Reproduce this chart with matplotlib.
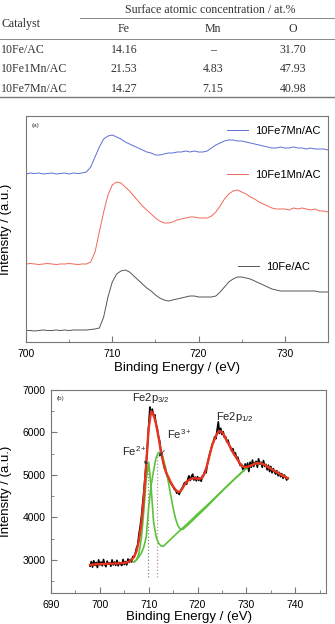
import numpy as np
import matplotlib
matplotlib.use("Agg")
import matplotlib.pyplot as plt
from matplotlib.lines import Line2D

plt.rcParams['font.family'] = ['Liberation Sans', 'DejaVu Sans']
plt.rcParams['mathtext.fontset'] = 'custom'
plt.rcParams['mathtext.rm'] = 'Liberation Sans'
plt.rcParams['mathtext.it'] = 'Liberation Sans:italic'
plt.rcParams['mathtext.bf'] = 'Liberation Sans:bold'

# ---- table data
catalysts = ["10Fe/AC", "10Fe1Mn/AC", "10Fe7Mn/AC"]
elements = ["Fe", "Mn", "O"]
conc_fe = ["14.16", "21.53", "14.27"]
conc_mn = ["\u2013", "4.83", "7.15"]
conc_o = ["31.70", "47.93", "40.98"]

# ---- panel (a): Fe 2p spectra, arbitrary offset units, 0.5 eV grid 700..735
energy_a = np.arange(700, 735.01, 0.5)
fe7mn = [168, 169, 168.5, 169, 168, 168.5, 169, 168, 168.5, 169, 168, 169, 168.5, 169,
         170, 175, 185, 195, 203, 206, 207, 205, 203, 200, 198, 196, 194, 192, 190, 189,
         187, 187, 188, 189, 189, 190, 190, 191, 190, 191, 190, 190, 191, 194, 197, 199,
         201, 202, 202, 201, 201, 200, 199, 198, 197, 196, 195, 194, 194, 195, 194, 194,
         195, 194, 194, 193, 194, 193, 193, 193, 192]
fe1mn = [78, 78.5, 78, 77.5, 78, 78.5, 78, 77.5, 78, 78, 78.5, 78, 77.5, 78,
         78, 80, 90, 110, 130, 147, 157, 160, 159, 155, 151, 146, 141, 136, 132, 128,
         124, 121, 119, 119, 120, 122, 123, 124, 125, 125, 124, 124, 124, 126, 130, 136,
         143, 148, 151, 152, 150, 148, 145, 143, 140, 138, 136, 134, 133, 133, 133, 132,
         134, 133, 134, 133, 132, 133, 131, 131, 130]
fe_only = [11.5, 11.5, 11, 11.5, 12, 11.5, 11.5, 12, 11.5, 12, 11.5, 12, 12, 12,
           12, 12.5, 13, 14, 25, 45, 60, 68, 71, 72, 70, 66, 62, 58, 54, 51,
           47, 44, 42, 41, 42, 43, 44, 45, 46, 46, 45, 45, 45, 45, 46, 50,
           55, 60, 63, 65, 65, 64, 63, 61, 59, 57, 55, 53, 52, 51, 51, 51,
           51, 51, 51, 51, 51, 51, 50, 50, 50]

# ---- panel (b): Fe 2p of one sample with fit
energy_raw = np.arange(698, 738.51, 0.25)
raw_counts = [2850, 2960, 2830, 2980, 2870, 2940, 2820, 3000,
              2880, 2950, 2860, 3010, 2890, 2840, 2970, 2900,
              2930, 2850, 3000, 2880, 2950, 2870, 2990, 2860,
              2940, 2900, 2870, 3010, 2890, 2960, 2880, 3020,
              2940, 3010, 2950, 3080, 3060, 3150, 3280, 3350,
              3600, 3780, 4000, 4300, 4600, 4950, 5300, 5700,
              6150, 6600, 6450, 6550, 6380, 6420, 6200, 6100,
              5900, 5800, 5550, 5480, 5300, 5150, 5100, 4980,
              4950, 4850, 4820, 4760, 4730, 4660, 4650, 4570,
              4600, 4540, 4620, 4680, 4720, 4800, 4830, 4780,
              4900, 4980, 4870, 4960, 5020, 4880, 4950, 4860,
              4960, 4870, 4930, 4850, 4980, 5000, 5100, 5050,
              5250, 5380, 5500, 5600, 5720, 5780, 5900, 5850,
              6050, 6250, 5980, 6100, 5950, 6020, 5880, 5900,
              5780, 5820, 5700, 5650, 5560, 5620, 5480, 5520,
              5380, 5420, 5300, 5220, 5250, 5140, 5100, 5260,
              5150, 5280, 5080, 5300, 5180, 5350, 5200, 5280,
              5320, 5180, 5380, 5250, 5300, 5180, 5340, 5200,
              5250, 5120, 5230, 5080, 5200, 5050, 5150, 5070,
              5020, 5100, 4980, 5060, 4960, 5030, 4920, 5000,
              4950, 4880, 4930]

energy_fit = np.arange(698, 738.51, 0.5)
fit_envelope = [2880, 2890, 2895, 2900, 2900, 2905, 2905, 2910,
                2910, 2910, 2915, 2915, 2920, 2925, 2930, 2940,
                2960, 3000, 3070, 3200, 3450, 3850, 4450, 5250,
                6100, 6500, 6420, 6200, 5900, 5550, 5280, 5080,
                4950, 4830, 4730, 4650, 4600, 4610, 4700, 4800,
                4860, 4900, 4920, 4920, 4910, 4910, 4940, 5050,
                5250, 5480, 5700, 5850, 5970, 6030, 6010, 5920,
                5800, 5700, 5580, 5480, 5400, 5300, 5220, 5190,
                5190, 5200, 5220, 5250, 5270, 5280, 5270, 5250,
                5220, 5180, 5150, 5110, 5080, 5050, 5010, 4980,
                4950, 4920]

energy_fe2 = [707, 707.5, 708, 708.5, 709, 709.5, 710, 710.5, 711, 711.5, 712, 712.5,
              713, 714, 716, 718, 720, 722, 724, 726, 728, 729.5,
              730, 731, 732, 733, 734, 735, 736, 737, 738, 738.5]
comp_fe2 = [2950, 3000, 3150, 3500, 4150, 4900, 5300, 4700, 3900, 3550, 3400, 3330,
            3320, 3430, 3650, 3860, 4080, 4290, 4510, 4730, 4950, 5110,
            5170, 5230, 5270, 5270, 5220, 5150, 5080, 5010, 4950, 4920]
energy_fe3 = [707, 707.5, 708, 708.5, 709, 709.5, 710, 710.5, 711, 711.5, 712, 712.5,
              713, 713.5, 714, 714.5, 715, 715.5, 716, 716.5, 717, 718, 720, 722,
              724, 726, 728, 729.5,
              730, 731, 732, 733, 734, 735, 736, 737, 738, 738.5]
comp_fe3 = [2950, 3000, 3070, 3160, 3300, 3540, 4250, 4750, 5100, 5400, 5530, 5520,
            5380, 5150, 4850, 4530, 4220, 3970, 3800, 3720, 3720, 3820, 4040, 4260,
            4500, 4730, 4950, 5110,
            5170, 5230, 5270, 5270, 5220, 5150, 5080, 5010, 4950, 4920]
fe2_pos = 709.9
fe3_pos = 711.8

fig = plt.figure(figsize=(3.35, 6.24), dpi=100)

# ---- table drawn as figure text
W, H = 335.0, 624.0
serif = ['Liberation Serif', 'DejaVu Serif']
tcol = '#333333'
fs_t = 8.6
fig.text(1 / W, 1 - 24 / H, "Catalyst", family=serif, fontsize=fs_t, color=tcol, va='center', ha='left')
fig.text(210 / W, 1 - 10 / H, "Surface atomic concentration / at.%", family=serif, fontsize=fs_t,
         color=tcol, va='center', ha='center')
for el, cx in zip(elements, [124, 213, 293]):
    fig.text(cx / W, 1 - 29 / H, el, family=serif, fontsize=fs_t, color=tcol, va='center', ha='center')
for i, name in enumerate(catalysts):
    ry = 1 - (50 + 19.5 * i) / H
    fig.text(1 / W, ry, name, family=serif, fontsize=fs_t, color=tcol, va='center', ha='left')
    fig.text(124 / W, ry, conc_fe[i], family=serif, fontsize=fs_t, color=tcol, va='center', ha='center')
    fig.text(213 / W, ry, conc_mn[i], family=serif, fontsize=fs_t, color=tcol, va='center', ha='center')
    fig.text(293 / W, ry, conc_o[i], family=serif, fontsize=fs_t, color=tcol, va='center', ha='center')
fig.add_artist(Line2D([80 / W, 1], [1 - 18 / H, 1 - 18 / H], color='#888888', lw=0.7))
fig.add_artist(Line2D([0, 1], [1 - 39 / H, 1 - 39 / H], color='#888888', lw=0.7))
fig.add_artist(Line2D([0, 1], [1 - 97 / H, 1 - 97 / H], color='#777777', lw=1.0))

spine_col = '#777777'

# ---- panel (a)
ax = fig.add_axes([26 / W, 1 - 342 / H, 302 / W, 226 / H])
l_blue, = ax.plot(energy_a, fe7mn, color='#5b6fd2', lw=0.7)
l_red, = ax.plot(energy_a, fe1mn, color='#f0675a', lw=0.7)
l_blk, = ax.plot(energy_a, fe_only, color='#555555', lw=0.7)
ax.set_xlim(700, 735)
ax.set_ylim(0, 226)
ax.set_yticks([])
ax.set_xticks([700, 710, 720, 730])
ax.set_xticks([705, 715, 725, 735], minor=True)
ax.tick_params(axis='x', which='both', direction='in', labelsize=7.5, pad=5, color=spine_col)
ax.tick_params(axis='x', which='major', length=4)
ax.tick_params(axis='x', which='minor', length=2.5)
for sp in ax.spines.values():
    sp.set_color(spine_col)
ax.set_xlabel("Binding Energy / (eV)", fontsize=9.5)
ax.xaxis.set_label_coords(0.5, -0.09)
ax.set_ylabel("Intensity / (a.u.)", fontsize=9.5)
ax.yaxis.set_label_coords(-0.047, 0.5)
ax.text(0.02, 0.97, "(a)", transform=ax.transAxes, fontsize=4.5, va='top', color='#333333')

legs = []
for handle, label, pos in [(l_blue, "10Fe7Mn/AC", (0.666, 0.934)),
                           (l_red, "10Fe1Mn/AC", (0.666, 0.739)),
                           (l_blk, "10Fe/AC", (0.702, 0.332))]:
    legs.append(ax.legend([handle], [label], loc='center left', bbox_to_anchor=pos, frameon=False,
                          fontsize=8, handlelength=1.9, handletextpad=0.6, borderpad=0,
                          borderaxespad=0))
for leg in legs[:-1]:
    ax.add_artist(leg)

# ---- panel (b)
bx = fig.add_axes([51 / W, 1 - 593 / H, 275 / W, 203 / H])
bx.vlines([fe2_pos], 2600, 5300, colors='#888888', linestyles=':', lw=0.9)
bx.vlines([fe3_pos], 2600, 5530, colors='#c09090', linestyles=':', lw=0.9)
bx.plot(energy_raw, raw_counts, color='black', lw=1.2)
bx.plot(energy_fe2, comp_fe2, color='#5cc23c', lw=1.2)
bx.plot(energy_fe3, comp_fe3, color='#5cc23c', lw=1.2)
bx.plot(energy_fit, fit_envelope, color='#e8341f', lw=1.7)
bx.set_xlim(690, 746.3)
bx.set_ylim(2220, 7000)
bx.set_xticks([690, 700, 710, 720, 730, 740])
bx.set_xticks([695, 705, 715, 725, 735, 745], minor=True)
bx.set_yticks([3000, 4000, 5000, 6000, 7000])
bx.set_yticks([2500, 3500, 4500, 5500, 6500], minor=True)
bx.tick_params(which='both', direction='in', labelsize=7.5, color=spine_col)
bx.tick_params(axis='x', pad=5)
bx.tick_params(axis='y', pad=4)
bx.tick_params(which='major', length=4)
bx.tick_params(which='minor', length=2.5)
for sp in bx.spines.values():
    sp.set_color(spine_col)
bx.set_xlabel("Binding Energy / (eV)", fontsize=9.5)
bx.xaxis.set_label_coords(0.5, -0.088)
bx.set_ylabel("Intensity / (a.u.)", fontsize=9.5)
bx.yaxis.set_label_coords(-0.142, 0.5)
bx.text(0.02, 0.97, "(b)", transform=bx.transAxes, fontsize=4.5, va='top', color='#333333')

bx.text(710.5, 6650, r"$\mathregular{Fe2p_{3/2}}$", fontsize=8, ha='center', va='bottom', color='#222222')
bx.text(727.6, 6200, r"$\mathregular{Fe2p_{1/2}}$", fontsize=8, ha='center', va='bottom', color='#222222')
bx.annotate(r"$\mathregular{Fe^{2+}}$", xy=(709.8, 5250), xytext=(707.0, 5550), fontsize=8,
            ha='center', va='center', color='#222222',
            arrowprops=dict(arrowstyle='-|>', color='#333333', lw=0.6, mutation_scale=4,
                            shrinkA=6, shrinkB=0))
bx.annotate(r"$\mathregular{Fe^{3+}}$", xy=(712.0, 5430), xytext=(716.2, 5950), fontsize=8,
            ha='center', va='center', color='#222222',
            arrowprops=dict(arrowstyle='-|>', color='#333333', lw=0.6, mutation_scale=4,
                            shrinkA=6, shrinkB=0))

fig.savefig("out.png", dpi=100)
